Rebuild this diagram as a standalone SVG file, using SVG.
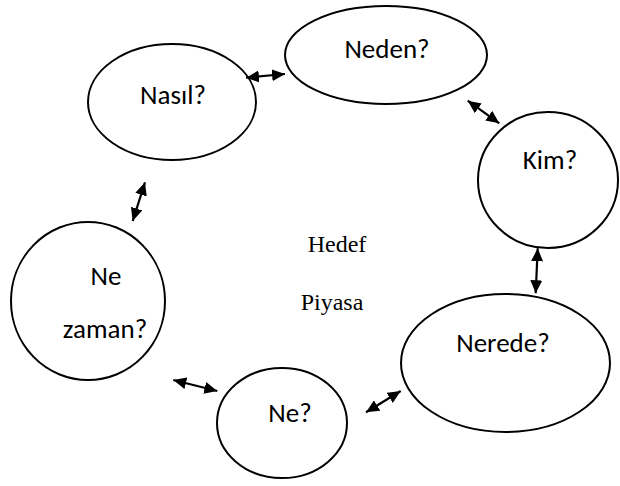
<svg xmlns="http://www.w3.org/2000/svg" width="620" height="486" viewBox="0 0 620 486">
  <defs>
    <marker id="head" viewBox="0 0 13 12" refX="13" refY="6" markerWidth="13" markerHeight="12" markerUnits="userSpaceOnUse" orient="auto-start-reverse">
      <path d="M0,0 L13,6 L0,12 Z" fill="#000"/>
    </marker>
    <style>
      .node ellipse { fill: #fff; stroke: #000; stroke-width: 2; }
      .lbl { font-family: "Carlito", "Lato", "Liberation Sans", sans-serif; font-size: 27px; fill: #000; text-anchor: middle; }
      .center { font-family: "Liberation Serif", serif; font-size: 24px; fill: #000; text-anchor: middle; }
      .link { stroke: #000; stroke-width: 2.2; fill: none; marker-start: url(#head); marker-end: url(#head); }
    </style>
  </defs>
  <rect width="620" height="486" fill="#fff"/>

  <g id="neden" class="node">
    <ellipse cx="386" cy="55" rx="101" ry="49"/>
    <text class="lbl" x="387" y="58">Neden?</text>
  </g>
  <g id="nasil" class="node">
    <ellipse cx="172" cy="102" rx="84" ry="58"/>
    <text class="lbl" x="173" y="104">Nasıl?</text>
  </g>
  <g id="kim" class="node">
    <ellipse cx="548" cy="180" rx="70" ry="68"/>
    <text class="lbl" x="550" y="169">Kim?</text>
  </g>
  <g id="ne-zaman" class="node">
    <ellipse cx="88" cy="301" rx="77" ry="79"/>
    <text class="lbl" x="106" y="285">Ne</text>
    <text class="lbl" x="105" y="338">zaman?</text>
  </g>
  <g id="nerede" class="node">
    <ellipse cx="505.5" cy="363" rx="104.5" ry="69"/>
    <text class="lbl" x="503" y="352">Nerede?</text>
  </g>
  <g id="ne" class="node">
    <ellipse cx="282" cy="423" rx="65" ry="55"/>
    <text class="lbl" x="290" y="422">Ne?</text>
  </g>

  <g id="center-label">
    <text class="center" x="337" y="252">Hedef</text>
    <text class="center" x="332" y="310">Piyasa</text>
  </g>

  <g id="connectors">
    <line class="link" x1="246" y1="77.7" x2="285" y2="74"/>
    <line class="link" x1="467.7" y1="100.7" x2="499.3" y2="123.3"/>
    <line class="link" x1="537.7" y1="248.3" x2="535.7" y2="293.3"/>
    <line class="link" x1="145" y1="182.3" x2="132.7" y2="221"/>
    <line class="link" x1="173.3" y1="380" x2="217.3" y2="391"/>
    <line class="link" x1="366" y1="412.3" x2="400.7" y2="391"/>
  </g>
</svg>
